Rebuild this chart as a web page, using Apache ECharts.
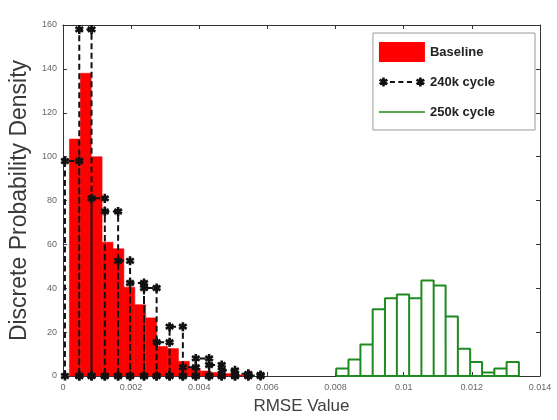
<!DOCTYPE html>
<html>
<head>
<meta charset="utf-8">
<script src="https://cdn.jsdelivr.net/npm/echarts@6/dist/echarts.min.js"></script>
<style>html,body{margin:0;padding:0;background:#fff;}#c{width:557px;height:420px;}</style>
</head>
<body>
<div id="c"></div>
<script>
// Baseline histogram: bin edges and densities
const baselineEdges = [0.00019, 0.00051, 0.00083, 0.00115, 0.00147, 0.00179, 0.00211, 0.00243, 0.00275, 0.00307, 0.00339, 0.00371, 0.00403, 0.00435, 0.00467, 0.00499, 0.00531];
const baselineValues = [108, 138, 100, 61, 58, 40.5, 32.5, 26.5, 13.5, 12.5, 6.7, 3.5, 2.3, 1.6, 1.1, 0.5];

// 240k cycle histogram outline: bin edges and densities
const c240Edges = [0.00006, 0.00048, 0.00084, 0.00123, 0.00162, 0.00197, 0.00238, 0.00275, 0.00313, 0.00352, 0.0039, 0.00429, 0.00466, 0.00505, 0.00544, 0.0058];
const c240Values = [98, 158, 81, 75, 52.5, 42.4, 40.1, 15.4, 22.5, 4, 8, 5, 2.6, 1, 0.5];

// 250k cycle histogram: bin edges and densities
const c250Edges = [0.00802, 0.00838, 0.00873, 0.00909, 0.00945, 0.0098, 0.01016, 0.01052, 0.01088, 0.01123, 0.01159, 0.01195, 0.0123, 0.01266, 0.01302, 0.01338];
const c250Values = [3.4, 7.5, 14.4, 30.4, 35.4, 37.2, 35.4, 43.5, 41.3, 27.1, 12.4, 6.4, 1.6, 3.4, 6.4];

// Axis ticks
const xTicks = [0, 0.002, 0.004, 0.006, 0.008, 0.01, 0.012, 0.014];
const yTicks = [0, 20, 40, 60, 80, 100, 120, 140, 160];

const seriesNames = ['Baseline', '240k cycle', '250k cycle'];

// build data
const baselineData = baselineValues.map((v, i) => [baselineEdges[i], baselineEdges[i + 1], v]);

const c240Data = [];
c240Values.forEach((v, i) => {
  c240Data.push([c240Edges[i], 0]);
  c240Data.push([c240Edges[i], v]);
  c240Data.push([c240Edges[i + 1], v]);
  c240Data.push([c240Edges[i + 1], 0]);
});

const c250Data = [];
const nG = c250Values.length;
c250Data.push([c250Edges[0], 0]);
c250Data.push([c250Edges[nG], 0]);
for (let i = nG - 1; i >= 0; i--) {
  c250Data.push([c250Edges[i + 1], 0]);
  c250Data.push([c250Edges[i + 1], c250Values[i]]);
  c250Data.push([c250Edges[i], c250Values[i]]);
  c250Data.push([c250Edges[i], 0]);
}

// six-armed asterisk marker
function starArms(cx, cy, r, w) {
  let s = '';
  [90, 30, 150].forEach(a => {
    const t = a * Math.PI / 180;
    const dx = Math.cos(t) * r, dy = Math.sin(t) * r;
    const nx = -Math.sin(t) * w, ny = Math.cos(t) * w;
    const pts = [[cx + dx + nx, cy + dy + ny], [cx + dx - nx, cy + dy - ny], [cx - dx - nx, cy - dy - ny], [cx - dx + nx, cy - dy + ny]];
    s += 'M' + pts.map(p => p[0].toFixed(3) + ',' + p[1].toFixed(3)).join('L') + 'Z';
  });
  return s;
}
const starPath = 'path://' + starArms(0, 0, 1, 0.3);
// legend icons (46 x 20 box, tiny corner dots fix the box size)
const boxDots = 'M0,0L0.05,0L0,0.05ZM46,20L45.95,20L46,19.95Z';
const legendDashStar = 'path://' + boxDots + starArms(4.5, 10, 4.5, 1.3) + starArms(41.5, 10, 4.5, 1.3) +
  'M11,9H16V11H11ZM19.5,9H24.5V11H19.5ZM28,9H33V11H28Z';
const legendGreenLine = 'path://' + boxDots + 'M0,9.3H46V10.7H0Z';

const FONT = '"Liberation Sans", Arial, sans-serif';
const xMin = xTicks[0], xMax = xTicks[xTicks.length - 1], xInt = xTicks[1] - xTicks[0];
const yMin = yTicks[0], yMax = yTicks[yTicks.length - 1], yInt = yTicks[1] - yTicks[0];

const axisCommon = {
  axisLine: { show: true, onZero: false, lineStyle: { color: '#333', width: 1 } },
  axisTick: { show: true, inside: true, length: 4, lineStyle: { color: '#333' } },
  splitLine: { show: false }
};

const chart = echarts.init(document.getElementById('c'), null, { renderer: 'canvas' });
chart.setOption({
  animation: false,
  backgroundColor: '#fff',
  grid: { left: 62, right: 17, top: 25, bottom: 40 },
  legend: {
    orient: 'vertical',
    right: 22,
    top: 33,
    padding: [9, 40, 8, 6],
    itemGap: 10,
    itemWidth: 46,
    itemHeight: 20,
    borderColor: '#9a9a9a',
    borderWidth: 1,
    backgroundColor: '#fff',
    textStyle: { fontFamily: FONT, fontWeight: 'bold', fontSize: 13, color: '#222' },
    data: [
      { name: seriesNames[0], icon: 'rect' },
      { name: seriesNames[1], icon: legendDashStar, itemStyle: { color: '#111' } },
      { name: seriesNames[2], icon: legendGreenLine, itemStyle: { color: '#1f8a1f' } }
    ]
  },
  xAxis: [
    Object.assign({
      type: 'value', min: xMin, max: xMax, interval: xInt, position: 'bottom',
      name: 'RMSE Value', nameLocation: 'middle', nameGap: 22,
      nameTextStyle: { fontFamily: FONT, fontSize: 17, color: '#404040' },
      axisLabel: { show: true, margin: 7, fontFamily: FONT, fontSize: 9, color: '#666',
        formatter: v => String(+v.toFixed(3)) }
    }, axisCommon),
    Object.assign({
      type: 'value', min: xMin, max: xMax, interval: xInt, position: 'top',
      axisLabel: { show: false }
    }, axisCommon)
  ],
  yAxis: [
    Object.assign({
      type: 'value', min: yMin, max: yMax, interval: yInt, position: 'left',
      name: 'Discrete Probability Density', nameLocation: 'middle', nameGap: 28,
      nameTextStyle: { fontFamily: FONT, fontSize: 23, color: '#3a3a3a' },
      axisLabel: { show: true, margin: 6, fontFamily: FONT, fontSize: 9, color: '#666' }
    }, axisCommon),
    Object.assign({
      type: 'value', min: yMin, max: yMax, interval: yInt, position: 'right',
      axisLabel: { show: false }
    }, axisCommon)
  ],
  series: [
    {
      name: seriesNames[0],
      type: 'custom',
      xAxisIndex: 0, yAxisIndex: 0,
      itemStyle: { color: '#ff0000' },
      encode: { x: [0, 1], y: 2 },
      data: baselineData,
      z: 1,
      renderItem: function (params, api) {
        const p0 = api.coord([api.value(0), api.value(2)]);
        const p1 = api.coord([api.value(1), 0]);
        return {
          type: 'rect',
          shape: { x: p0[0], y: p0[1], width: p1[0] - p0[0], height: p1[1] - p0[1] },
          style: { fill: '#ff0000', stroke: '#f00000', lineWidth: 0.5 }
        };
      }
    },
    {
      name: seriesNames[1],
      type: 'line',
      xAxisIndex: 0, yAxisIndex: 0,
      data: c240Data,
      z: 3,
      symbol: starPath,
      symbolSize: 9,
      showSymbol: true,
      itemStyle: { color: '#111' },
      lineStyle: { color: '#111', width: 2, type: [6, 3.5] }
    },
    {
      name: seriesNames[2],
      type: 'line',
      xAxisIndex: 0, yAxisIndex: 0,
      data: c250Data,
      z: 2,
      symbol: 'none',
      showSymbol: false,
      itemStyle: { color: '#1f8a1f' },
      lineStyle: { color: '#1f8a1f', width: 2 }
    }
  ]
});
</script>
</body>
</html>
